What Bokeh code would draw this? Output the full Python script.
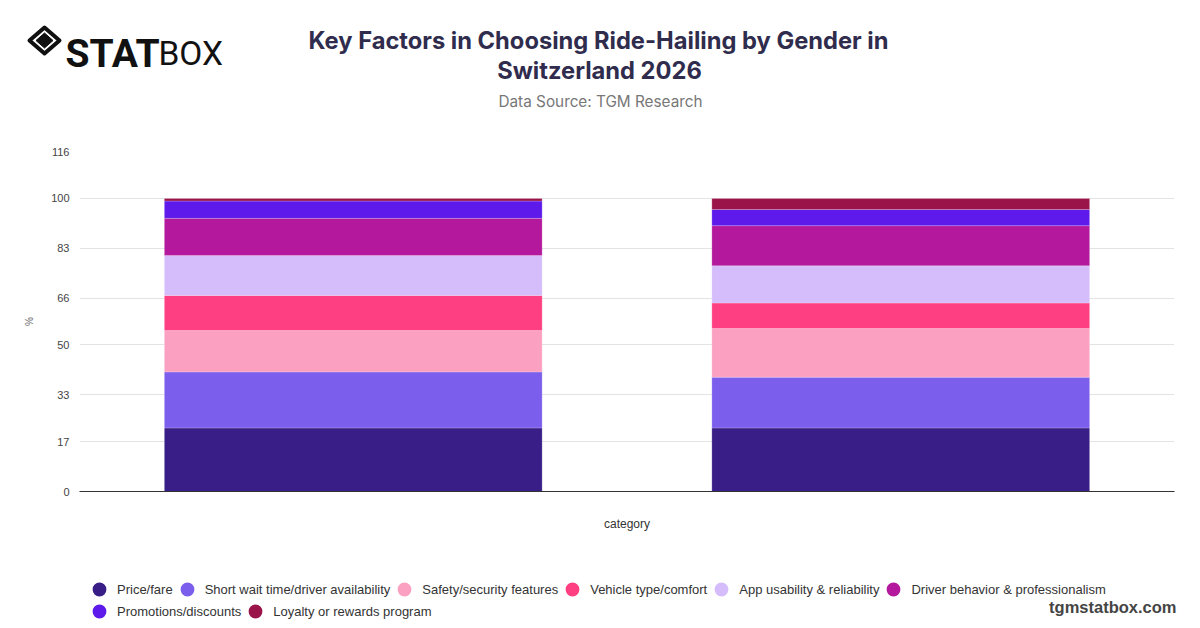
from bokeh.plotting import figure
from bokeh.layouts import column
from bokeh.models import (ColumnDataSource, Range1d, FactorRange, FixedTicker,
                          Legend, LegendItem)
from bokeh.core.properties import value
from bokeh.embed import file_html
from bokeh.resources import INLINE

# ---------------- data ----------------
categories = ["Male", "Female"]
factor_names = [
    "Price/fare",
    "Short wait time/driver availability",
    "Safety/security features",
    "Vehicle type/comfort",
    "App usability & reliability",
    "Driver behavior & professionalism",
    "Promotions/discounts",
    "Loyalty or rewards program",
]
price_fare = [21.7, 21.7]
short_wait = [19.1, 17.3]
safety_security = [14.1, 16.6]
vehicle_comfort = [12.0, 8.7]
app_usability = [13.6, 12.7]
driver_behavior = [12.7, 13.7]
promotions = [5.9, 5.5]
loyalty = [0.9, 3.8]
y_ticks = [0, 17, 33, 50, 66, 83, 100, 116]

title_line1 = "Key Factors in Choosing Ride-Hailing by Gender in"
title_line2 = "Switzerland 2026"
subtitle = "Data Source: TGM Research"
watermark = "tgmstatbox.com"

colors = ["#381e86", "#7c5eec", "#fca0c2", "#fe3f81",
          "#d5bcfb", "#b3189d", "#5d1aea", "#9a1449"]

W = 1184
HEADER_H = 140
MAIN_H = 420
FOOTER_H = 68

keys = ["k%d" % i for i in range(len(factor_names))]
series = [price_fare, short_wait, safety_security, vehicle_comfort,
          app_usability, driver_behavior, promotions, loyalty]
data = {"cat": categories}
for k, s in zip(keys, series):
    data[k] = s
source = ColumnDataSource(data)


def blank_figure(height):
    f = figure(width=W, height=height, x_range=Range1d(0, W),
               y_range=Range1d(height, 0), output_backend="svg",
               toolbar_location=None, min_border=0,
               min_border_left=0, min_border_right=0,
               min_border_top=0, min_border_bottom=0,
               x_axis_location=None, y_axis_location=None)
    f.frame_align = False
    f.grid.visible = False
    f.outline_line_color = None
    f.background_fill_color = "white"
    f.border_fill_color = "white"
    return f


# ---------------- header ----------------
h = blank_figure(HEADER_H)
h.text(x=[598], y=[40], text=[title_line1], text_align="center",
       text_baseline="middle", text_font=value("Inter"), text_font_style="bold",
       text_font_size="23.7px", text_color="#2f2c4d")
h.text(x=[599], y=[70], text=[title_line2], text_align="center",
       text_baseline="middle", text_font=value("Inter"), text_font_style="bold",
       text_font_size="23.7px", text_color="#2f2c4d")
h.text(x=[600], y=[101], text=[subtitle], text_align="center",
       text_baseline="middle", text_font=value("Inter"),
       text_font_size="15.3px", text_color="#777777")
# logo
lx, ly = 44, 40
h.patch(x=[lx - 15, lx, lx + 15, lx], y=[ly, ly - 13, ly, ly + 13],
        fill_alpha=0, line_color="#111111", line_width=4, line_join="round")
h.patch(x=[lx - 8.5, lx, lx + 8.5, lx], y=[ly, ly - 7.5, ly, ly + 7.5],
        fill_color="#111111", line_color="#111111", line_width=1)
h.text(x=[65], y=[53], text=["STAT"], text_align="left",
       text_baseline="alphabetic", text_font=value("Roboto"),
       text_font_style="bold", text_font_size="39px", text_color="#111111")
h.text(x=[158], y=[53], text=["BOX"], text_align="left",
       text_baseline="alphabetic", text_font=value("Roboto"),
       text_font_size="33.5px", text_color="#111111")

# ---------------- main chart ----------------
p = figure(width=W, height=MAIN_H,
           x_range=FactorRange(*categories),
           y_range=Range1d(0, y_ticks[-1]),
           output_backend="svg", toolbar_location=None,
           min_border_left=79, min_border_right=W - 1174,
           min_border_top=11, min_border_bottom=69)
p.frame_align = False
p.outline_line_color = None
p.background_fill_color = "white"
p.border_fill_color = "white"

p.vbar_stack(keys, x="cat", width=0.69, color=colors, source=source,
             line_color="white", line_width=0.6, line_alpha=0.35)

p.xgrid.grid_line_color = None
p.ygrid.grid_line_color = "#e3e3e3"
p.ygrid.grid_line_width = 1

p.yaxis.ticker = FixedTicker(ticks=y_ticks)
p.yaxis.axis_line_color = None
p.yaxis.major_tick_line_color = None
p.yaxis.minor_tick_line_color = None
p.yaxis.major_label_text_font = "Liberation Sans"
p.yaxis.major_label_text_font_size = "11px"
p.yaxis.major_label_text_color = "#444444"
p.yaxis.major_label_standoff = 4
p.yaxis.axis_label = "%"
p.yaxis.axis_label_text_font = "Liberation Sans"
p.yaxis.axis_label_text_font_style = "normal"
p.yaxis.axis_label_text_font_size = "10px"
p.yaxis.axis_label_text_color = "#666666"
p.yaxis.axis_label_standoff = 13

p.xaxis.major_tick_line_color = None
p.xaxis.minor_tick_line_color = None
p.xaxis.major_label_text_color = None
p.xaxis.major_label_text_font_size = "12px"
p.xaxis.major_label_standoff = 0
p.xaxis.axis_line_color = "#333333"
p.xaxis.axis_line_width = 1
p.xaxis.axis_label = "category"
p.xaxis.axis_label_text_font = "Liberation Sans"
p.xaxis.axis_label_text_font_style = "normal"
p.xaxis.axis_label_text_font_size = "12px"
p.xaxis.axis_label_text_color = "#333333"
p.xaxis.axis_label_standoff = 19

# ---------------- footer: legend + watermark ----------------
f = blank_figure(FOOTER_H)
nan = float("nan")
proxies = [f.scatter(x=[nan], y=[nan], marker="circle", size=14,
                     fill_color=c, line_color=c, line_width=5)
           for c in colors]
items = [LegendItem(label=n, renderers=[r]) for n, r in zip(factor_names, proxies)]
common = dict(orientation="horizontal", glyph_width=22, glyph_height=22,
              spacing=3, label_standoff=7, padding=0, margin=0,
              border_line_color=None, background_fill_alpha=0,
              label_text_font="Liberation Sans", label_text_font_size="13px",
              label_text_color="#333333")
legend1 = Legend(items=items[:6], location=(88, 28), **common)
legend2 = Legend(items=items[6:], location=(88, 6), **common)
f.add_layout(legend1)
f.add_layout(legend2)
f.text(x=[1176], y=[46], text=[watermark], text_align="right",
       text_baseline="middle", text_font=value("Liberation Sans"),
       text_font_style="bold", text_font_size="16.5px", text_color="#444444")

layout = column(h, p, f, spacing=0)
open("out.html", "w").write(file_html(layout, INLINE))
